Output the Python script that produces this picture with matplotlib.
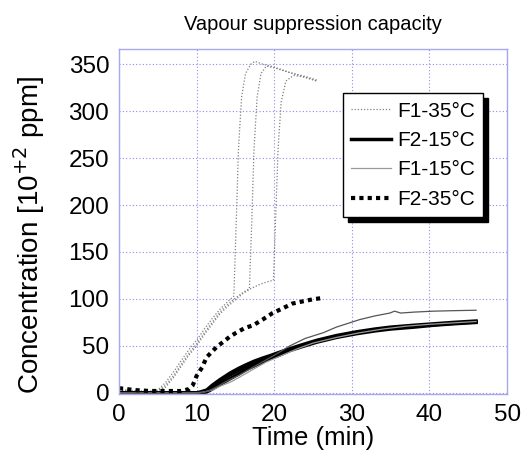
import matplotlib.pyplot as plt

plt.rcParams['font.family'] = ['Liberation Sans', 'DejaVu Sans']

# F1-35°C (three runs, grey dotted)
f1_35_t_a = [0, 2, 4, 5, 6, 7, 8, 9, 10, 11, 12, 13, 14, 14.8, 15.1, 15.4, 15.8, 16.3, 17, 17.5, 18.5, 20, 22, 24, 25.5]
f1_35_c_a = [4, 2, 2, 3, 11, 22, 34, 46, 56, 68, 79, 89, 97, 103, 180, 260, 315, 340, 350, 353, 350, 347, 341, 337, 333]
f1_35_t_b = [0, 2, 4, 5, 6, 7, 8, 9, 10, 11, 12, 13, 14, 15, 16, 16.8, 17.1, 17.4, 17.8, 18.3, 19, 20, 22, 24, 25.5]
f1_35_c_b = [3, 2, 1, 2, 8, 18, 30, 42, 52, 64, 75, 86, 94, 101, 107, 111, 180, 260, 315, 340, 348, 346, 341, 336, 332]
f1_35_t_c = [0, 2, 4, 5, 6, 7, 8, 9, 10, 11, 12, 13, 14, 15, 16, 17, 18, 19, 19.9, 20.2, 20.5, 20.9, 21.5, 22.5, 24, 25.5]
f1_35_c_c = [2, 1, 1, 2, 6, 16, 28, 40, 50, 62, 73, 84, 92, 99, 106, 111, 115, 118, 120, 190, 260, 310, 332, 338, 336, 332]

# F2-15°C (three runs, thick black)
f2_15_t = [0, 5, 10, 10.5, 11.3, 12, 13, 14.3, 15.4, 16.4, 17.5, 18.5, 19.6, 20.6, 22, 23.5, 25.5, 28, 30.6, 33, 35, 38, 40.5, 43, 46]
f2_15_c_a = [0, 0, 0, 0, 2, 6, 12, 19, 24, 28, 32, 35, 38, 41, 46, 50, 55, 60, 64, 67, 69, 71, 72.5, 74, 75.5]
f2_15_c_b = [0, 0, 0, 0, 1, 4, 9, 15, 20, 25, 29, 33, 37, 40, 45, 49, 54, 59, 63, 66, 68, 70, 72, 73.5, 75]
f2_15_c_c = [0, 0, 0, 1, 3, 8, 14, 21, 26, 30, 34, 37, 40, 43, 47, 51, 56, 61, 65, 68, 70, 72, 73.5, 75, 76.5]

# F1-15°C (two runs, thin grey)
f1_15_t_a = [0, 5, 10, 10.5, 11.5, 12.5, 14, 15.5, 17, 18.5, 20, 22, 24, 26.3, 28, 31, 33, 34.9, 35.5, 36.3, 38, 40.5, 43, 46]
f1_15_c_a = [0, 0, 0, 0, 2, 6, 13, 19, 26, 33, 40, 50, 58, 64, 70, 78, 82, 85, 87, 85, 86, 87, 87.5, 88]
f1_15_t_b = [0, 5, 10, 11, 12, 13, 14.5, 16, 17.5, 19, 21, 23, 25, 28, 31, 34, 37, 40, 43, 46]
f1_15_c_b = [0, 0, 0, 1, 3, 7, 12, 19, 26, 33, 40, 47, 53, 59, 64, 68, 71, 73, 74.5, 76]

# F2-35°C (thick black dotted)
f2_35_t = [0, 1, 2, 4, 6, 8, 9, 9.5, 10, 10.7, 11.3, 12, 12.6, 13.7, 14.3, 15.1, 16.2, 17.3, 18.5, 19.8, 21.1, 22.3, 24, 25.2, 26.3]
f2_35_c = [5, 4, 3, 2, 2, 2, 4, 8, 18, 27, 38, 44, 49, 56, 60, 64, 69, 72, 78, 85, 90, 95, 98, 100, 101]

fig = plt.figure(figsize=(5.31, 4.59), dpi=100)
ax = fig.add_axes([0.224, 0.142, 0.731, 0.751])

# curves
ax.plot(f1_35_t_a, f1_35_c_a, color='#808080', lw=0.9, ls=(0, (1, 1.5)), label='F1-35°C')
ax.plot(f1_35_t_b, f1_35_c_b, color='#808080', lw=0.9, ls=(0, (1, 1.5)))
ax.plot(f1_35_t_c, f1_35_c_c, color='#808080', lw=0.9, ls=(0, (1, 1.5)))

ax.plot(f2_15_t, f2_15_c_a, color='black', lw=2.5, label='F2-15°C')
ax.plot(f2_15_t, f2_15_c_b, color='black', lw=2.5)
ax.plot(f2_15_t, f2_15_c_c, color='black', lw=2.5)

ax.plot(f1_15_t_b, f1_15_c_b, color='#9a9a9a', lw=0.9, label='F1-15°C')
ax.plot(f1_15_t_a, f1_15_c_a, color='#555555', lw=0.9)

ax.plot(f2_35_t, f2_35_c, color='black', lw=3, ls=(0, (1, 1)), label='F2-35°C')

ax.set_xlim(0, 50)
ax.set_ylim(-1, 366)
ax.set_xticks([0, 10, 20, 30, 40, 50])
ax.set_yticks([0, 50, 100, 150, 200, 250, 300, 350])
ax.tick_params(length=0, labelsize=17.5)
ax.tick_params(axis='x', pad=7)
ax.tick_params(axis='y', pad=7)
ax.grid(True, color='#8c8ce6', ls=(0, (1, 2)), lw=0.8)
for sp in ax.spines.values():
    sp.set_color('#a8a8ee')
    sp.set_linewidth(1)

ax.set_title('Vapour suppression capacity', fontsize=14.5, pad=14)
ax.set_xlabel('Time (min)', fontsize=18.5, labelpad=0)
ax.set_ylabel('Concentration [10$^{+2}$ ppm]', fontsize=20)
ax.yaxis.set_label_coords(-0.185, 0.46)

leg = ax.legend(loc='upper right', bbox_to_anchor=(0.938, 0.872), borderaxespad=0,
                fontsize=15, frameon=True, fancybox=False, handlelength=1.9,
                handletextpad=0.3, borderpad=0.4, labelspacing=0.5,
                shadow={'ox': 3.5, 'oy': -3.5, 'color': 'black', 'alpha': 1})
leg.get_frame().set_edgecolor('black')
leg.get_frame().set_linewidth(1)
leg.get_frame().set_alpha(1)

fig.savefig('out.png', dpi=100)
